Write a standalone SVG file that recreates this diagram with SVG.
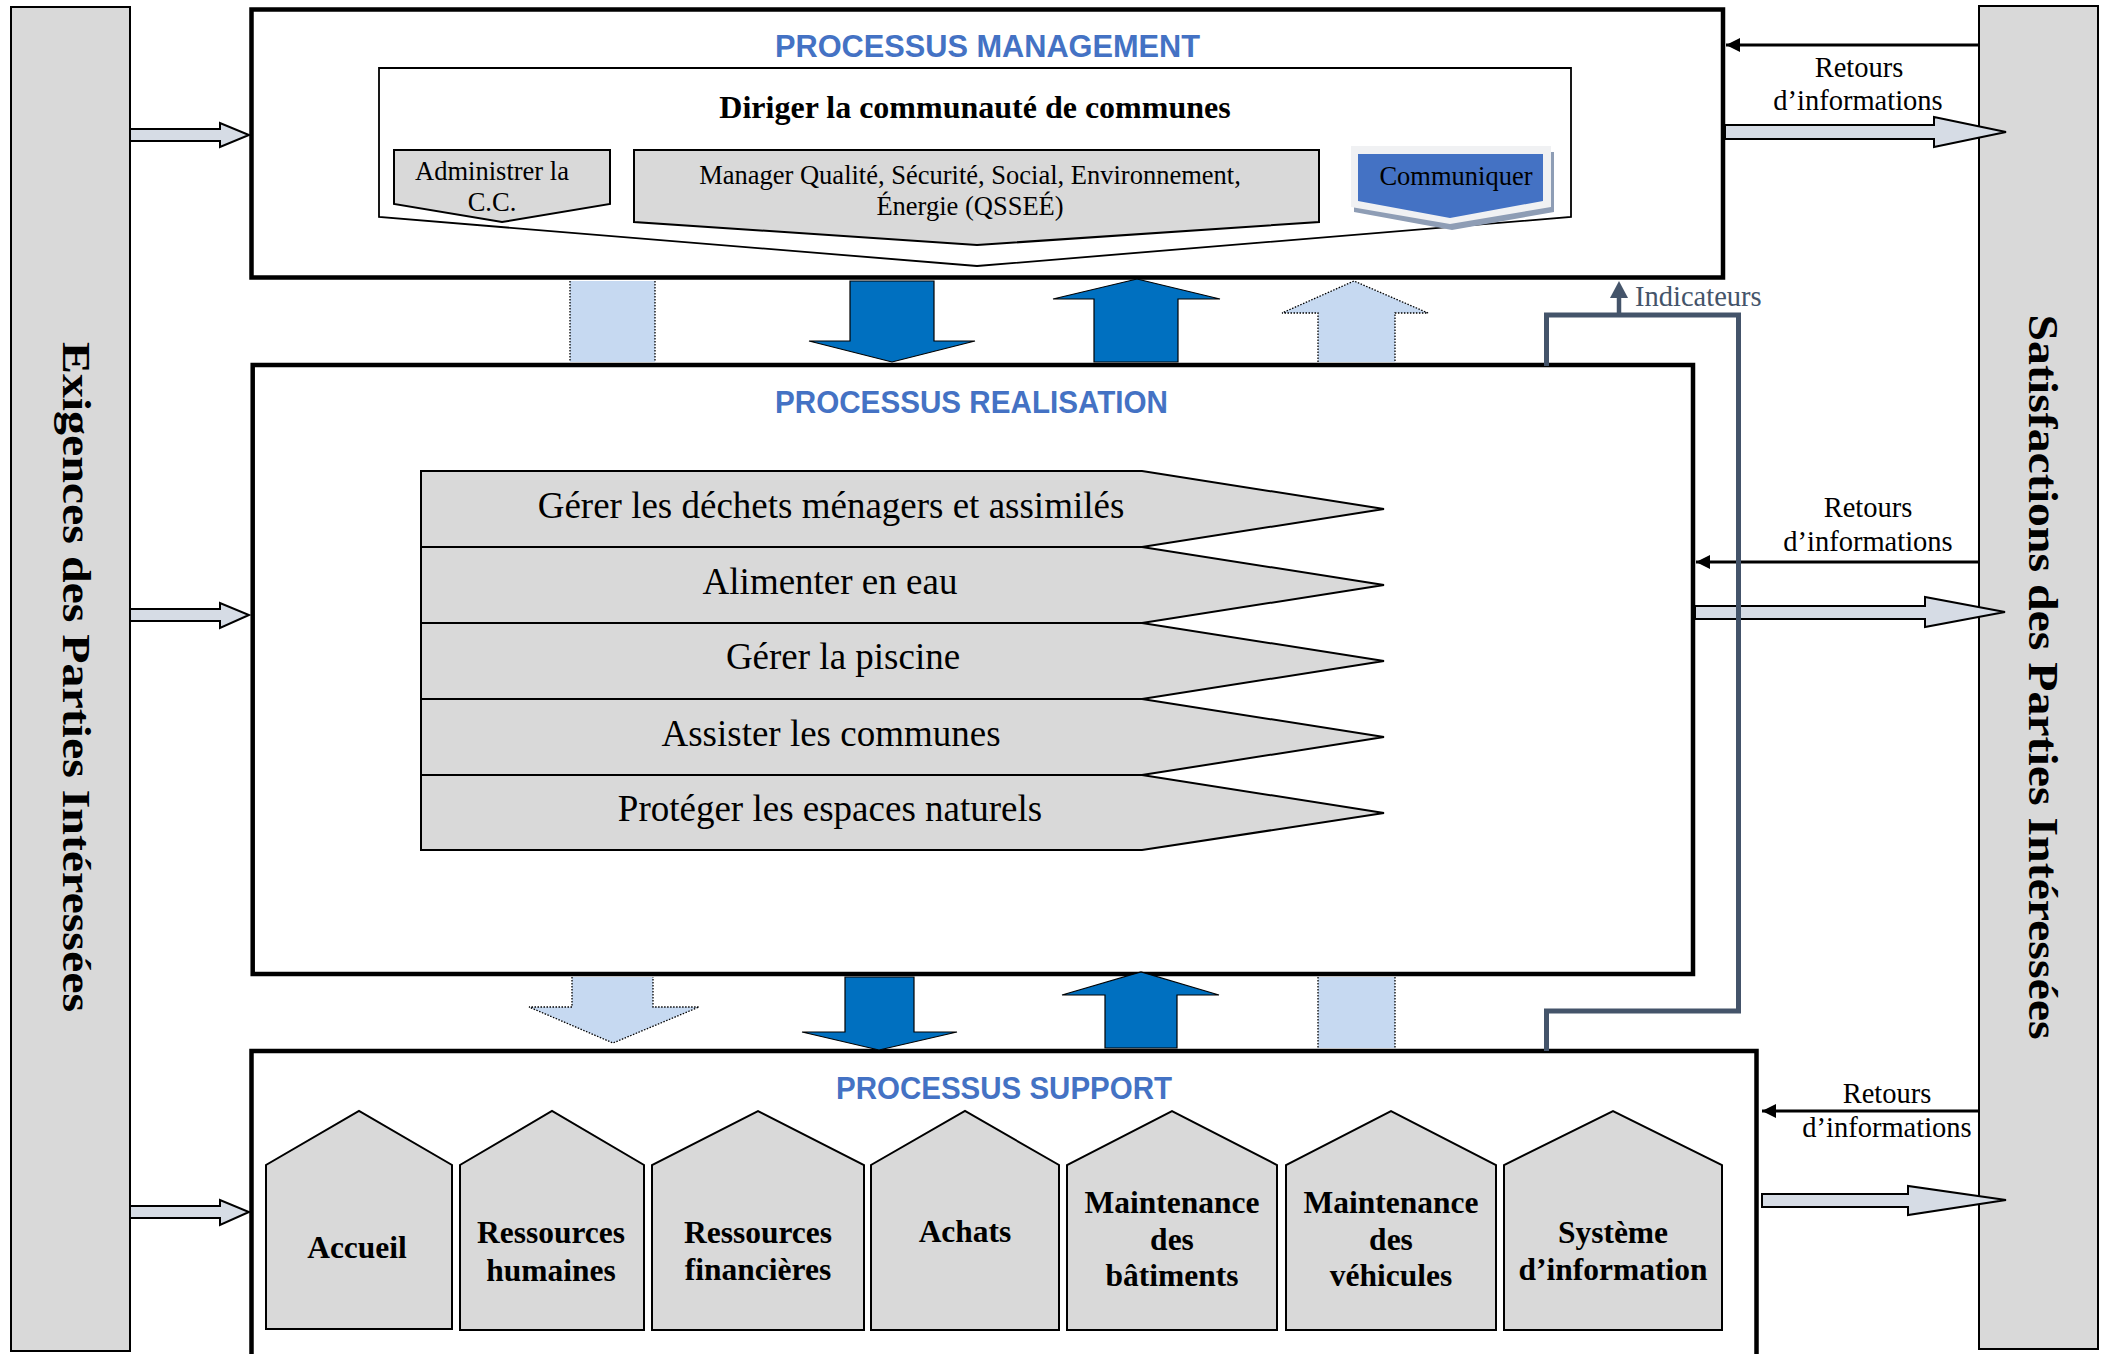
<svg xmlns="http://www.w3.org/2000/svg" width="2105" height="1354" viewBox="0 0 2105 1354">
<defs>
<style>
.serif{font-family:"Liberation Serif","Times New Roman",serif;fill:#000}
.title{font-family:"Liberation Sans",Arial,sans-serif;font-weight:bold;fill:#4472c4;font-size:32px}
.box{fill:#fff;stroke:#000;stroke-width:4.5}
.side{fill:#d9d9d9;stroke:#000;stroke-width:2}
.gray{fill:#d9d9d9;stroke:#000;stroke-width:2}
.larrow{fill:#d6dce5;stroke:#000;stroke-width:2}
.dark{fill:#0070c0;stroke:#000;stroke-width:1.2}
.lightfill{fill:#c6d9f1;stroke:none}
.dots{fill:none;stroke:#000;stroke-width:1.3;stroke-dasharray:1.5 1.5}
.fb{fill:none;stroke:#000;stroke-width:3}
.slate{fill:none;stroke:#44546a;stroke-width:5}
.house{font-size:31.5px;font-weight:bold}
.chev{font-size:37px}
.ret{font-size:28.5px}
</style>
<marker id="ah" viewBox="0 0 10 10" refX="10" refY="5" markerUnits="userSpaceOnUse" markerWidth="14" markerHeight="14" orient="auto">
<path d="M0,0 L10,5 L0,10 z" fill="#000"/>
</marker>
</defs>

<g id="exigences">
<rect class="side" x="11" y="7" width="119" height="1344"/>
<text class="serif" font-weight="bold" font-size="41" text-anchor="middle" textLength="670" lengthAdjust="spacingAndGlyphs" transform="translate(63,677) rotate(90)">Exigences des Parties Intéressées</text>
</g>

<g id="satisfactions">
<rect class="side" x="1979" y="6" width="119" height="1343"/>
<text class="serif" font-weight="bold" font-size="43" text-anchor="middle" textLength="725" lengthAdjust="spacingAndGlyphs" transform="translate(2029,677) rotate(90)">Satisfactions des Parties Intéressées</text>
</g>

<g id="management">
<rect class="box" x="251.5" y="9.5" width="1471.5" height="268"/>
<text class="title" x="775" y="57" textLength="425" lengthAdjust="spacingAndGlyphs">PROCESSUS MANAGEMENT</text>
<g id="diriger">
<polygon points="379,68 1571,68 1571,217 977,266 379,217" fill="#fff" stroke="#000" stroke-width="1.8"/>
<text class="serif" x="975" y="118" font-size="32" font-weight="bold" text-anchor="middle">Diriger la communauté de communes</text>
</g>
<g id="administrer">
<polygon class="gray" points="394,150 610,150 610,204 502,222 394,204"/>
<text class="serif" font-size="26.5" text-anchor="middle"><tspan x="492" y="180">Administrer la</tspan><tspan x="492" y="211">C.C.</tspan></text>
</g>
<g id="manager">
<polygon class="gray" points="634,150 1319,150 1319,222 977,245 634,222"/>
<text class="serif" font-size="26.5" text-anchor="middle"><tspan x="970" y="184">Manager Qualité, Sécurité, Social, Environnement,</tspan><tspan x="970" y="215">Énergie (QSSEÉ)</tspan></text>
</g>
<g id="communiquer">
<polygon points="1354,152 1554,152 1554,212 1452,230 1354,212" fill="#8e9db5"/>
<polygon points="1351,146 1551,146 1551,207 1450,224 1351,207" fill="#f0f1f3"/>
<polygon points="1358,154 1543,154 1543,201 1450,218 1358,201" fill="#4472c4"/>
<text class="serif" x="1456" y="185" font-size="26.5" text-anchor="middle">Communiquer</text>
</g>
</g>

<g id="realisation">
<rect class="box" x="252.7" y="365" width="1440.3" height="609"/>
<text class="title" x="775" y="413" textLength="393" lengthAdjust="spacingAndGlyphs">PROCESSUS REALISATION</text>
<g id="dechets">
<polygon class="gray" points="421,471 1142,471 1384,509 1142,547 421,547"/>
<text class="serif chev" x="831" y="518" text-anchor="middle">Gérer les déchets ménagers et assimilés</text>
</g>
<g id="eau">
<polygon class="gray" points="421,547 1142,547 1384,585 1142,623 421,623"/>
<text class="serif chev" x="830" y="594" text-anchor="middle">Alimenter en eau</text>
</g>
<g id="piscine">
<polygon class="gray" points="421,623 1142,623 1384,661 1142,699 421,699"/>
<text class="serif chev" x="843" y="669" text-anchor="middle">Gérer la piscine</text>
</g>
<g id="communes">
<polygon class="gray" points="421,699 1142,699 1384,737 1142,775 421,775"/>
<text class="serif chev" x="831" y="746" text-anchor="middle">Assister les communes</text>
</g>
<g id="espaces">
<polygon class="gray" points="421,775 1142,775 1384,813 1142,850 421,850"/>
<text class="serif chev" x="830" y="821" text-anchor="middle">Protéger les espaces naturels</text>
</g>
</g>

<g id="support">
<rect class="box" x="251.5" y="1051" width="1505" height="400"/>
<text class="title" x="836" y="1099" textLength="336" lengthAdjust="spacingAndGlyphs">PROCESSUS SUPPORT</text>
<g id="accueil">
<polygon class="gray" points="266,1329 266,1165 359,1111 452,1165 452,1329"/>
<text class="serif house" x="357" y="1258" text-anchor="middle">Accueil</text>
</g>
<g id="rh">
<polygon class="gray" points="460,1330 460,1165 552,1111 644,1165 644,1330"/>
<text class="serif house" text-anchor="middle"><tspan x="551" y="1243">Ressources</tspan><tspan x="551" y="1281">humaines</tspan></text>
</g>
<g id="rf">
<polygon class="gray" points="652,1330 652,1165 758,1111 864,1165 864,1330"/>
<text class="serif house" text-anchor="middle"><tspan x="758" y="1243">Ressources</tspan><tspan x="758" y="1280">financières</tspan></text>
</g>
<g id="achats">
<polygon class="gray" points="871,1330 871,1165 965,1111 1059,1165 1059,1330"/>
<text class="serif house" x="965" y="1242" text-anchor="middle">Achats</text>
</g>
<g id="maint-bat">
<polygon class="gray" points="1067,1330 1067,1165 1172,1111 1277,1165 1277,1330"/>
<text class="serif house" text-anchor="middle"><tspan x="1172" y="1213">Maintenance</tspan><tspan x="1172" y="1250">des</tspan><tspan x="1172" y="1286">bâtiments</tspan></text>
</g>
<g id="maint-veh">
<polygon class="gray" points="1286,1330 1286,1165 1391,1111 1496,1165 1496,1330"/>
<text class="serif house" text-anchor="middle"><tspan x="1391" y="1213">Maintenance</tspan><tspan x="1391" y="1250">des</tspan><tspan x="1391" y="1286">véhicules</tspan></text>
</g>
<g id="si">
<polygon class="gray" points="1504,1330 1504,1165 1613,1111 1722,1165 1722,1330"/>
<text class="serif house" text-anchor="middle"><tspan x="1613" y="1243">Système</tspan><tspan x="1613" y="1280">d’information</tspan></text>
</g>
</g>

<g id="connectors">
<polygon class="larrow" points="130,129 220,129 220,123 249,135 220,147 220,141 130,141"/>
<polygon class="larrow" points="130,609 220,609 220,603 249,615 220,628 220,621 130,621"/>
<polygon class="larrow" points="130,1206 220,1206 220,1200 249,1212 220,1225 220,1218 130,1218"/>
<polygon class="larrow" points="1725,125 1934,125 1934,117 2006,132 1934,147 1934,139 1725,139"/>
<polygon class="larrow" points="1695,606 1925,606 1925,597 2005,612 1925,627 1925,619 1695,619"/>
<polygon class="larrow" points="1762,1194 1908,1194 1908,1186 2006,1200 1908,1215 1908,1207 1762,1207"/>
<line class="fb" x1="1979" y1="45" x2="1726" y2="45" marker-end="url(#ah)"/>
<line class="fb" x1="1979" y1="562" x2="1696" y2="562" marker-end="url(#ah)"/>
<line class="fb" x1="1979" y1="1111" x2="1762" y2="1111" marker-end="url(#ah)"/>
<text class="serif ret" text-anchor="middle"><tspan x="1859" y="77">Retours</tspan><tspan x="1858" y="110">d’informations</tspan></text>
<text class="serif ret" text-anchor="middle"><tspan x="1868" y="517">Retours</tspan><tspan x="1868" y="551">d’informations</tspan></text>
<text class="serif ret" text-anchor="middle"><tspan x="1887" y="1103">Retours</tspan><tspan x="1887" y="1137">d’informations</tspan></text>
<rect class="lightfill" x="570" y="281" width="85" height="81"/>
<line class="dots" x1="570" y1="281" x2="570" y2="362"/>
<line class="dots" x1="655" y1="281" x2="655" y2="362"/>
<polygon class="dark" points="850,281 934,281 934,341 975,341 892,362 809,341 850,341"/>
<polygon class="dark" points="1094,362 1094,299 1053,299 1137,279 1220,299 1178,299 1178,362"/>
<polygon class="lightfill" points="1318,362 1318,313 1282,313 1354,281 1428,313 1395,313 1395,362"/>
<polyline class="dots" points="1318,362 1318,313 1282,313 1354,281 1428,313 1395,313 1395,362"/>
<polygon class="lightfill" points="572,977 572,1007 529,1007 613,1043 699,1007 653,1007 653,977"/>
<polyline class="dots" points="572,977 572,1007 529,1007 613,1043 699,1007 653,1007 653,977"/>
<polygon class="dark" points="845,977 914,977 914,1032 957,1032 879,1050 802,1032 845,1032"/>
<polygon class="dark" points="1105,1048 1105,995 1062,995 1141,972 1219,995 1177,995 1177,1048"/>
<rect class="lightfill" x="1318" y="977" width="77" height="71"/>
<line class="dots" x1="1318" y1="977" x2="1318" y2="1048"/>
<line class="dots" x1="1395" y1="977" x2="1395" y2="1048"/>
<path class="slate" d="M1546.5,1051 V1011 H1738.5 V315 H1546.5 V366"/>
<line x1="1619" y1="315" x2="1619" y2="297" stroke="#44546a" stroke-width="4.5"/>
<polygon points="1610,298 1628,298 1619,281" fill="#44546a"/>
<text class="serif" x="1635" y="306" font-size="28.5" style="fill:#44546a">Indicateurs</text>
</g>
</svg>
